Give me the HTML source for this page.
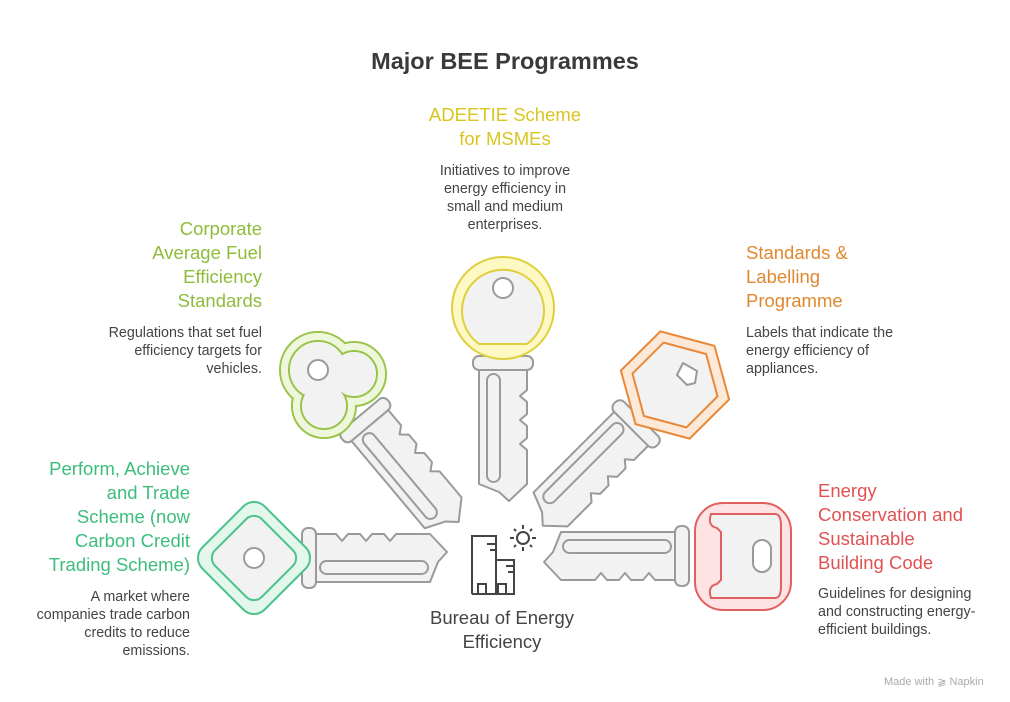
<!DOCTYPE html>
<html><head><meta charset="utf-8"><style>
body{margin:0;background:#fff;width:1010px;height:702px;overflow:hidden;font-family:"Liberation Sans",Arial,sans-serif}
.t{position:absolute;font-size:18.5px;line-height:24px}
.d{position:absolute;font-size:14.3px;line-height:18px;color:#444}
</style></head><body>
<div style="position:absolute;left:0;width:1010px;top:48px;text-align:center;font-size:23.5px;font-weight:bold;color:#3a3a3a">Major BEE Programmes</div>

<div class="t" style="left:405px;width:200px;top:103px;text-align:center;color:#d9c520">ADEETIE Scheme<br>for MSMEs</div>
<div class="d" style="left:405px;width:200px;top:162px;text-align:center">Initiatives to improve<br>energy efficiency in<br>small and medium<br>enterprises.</div>

<div class="t" style="left:40px;width:222px;top:217px;text-align:right;color:#8fbc3b">Corporate<br>Average Fuel<br>Efficiency<br>Standards</div>
<div class="d" style="left:40px;width:222px;top:324px;text-align:right">Regulations that set fuel<br>efficiency targets for<br>vehicles.</div>

<div class="t" style="left:746px;width:220px;top:241px;color:#e0882e">Standards &amp;<br>Labelling<br>Programme</div>
<div class="d" style="left:746px;width:220px;top:324px">Labels that indicate the<br>energy efficiency of<br>appliances.</div>

<div class="t" style="left:0px;width:190px;top:457px;text-align:right;color:#3cbd7c">Perform, Achieve<br>and Trade<br>Scheme (now<br>Carbon Credit<br>Trading Scheme)</div>
<div class="d" style="left:0px;width:190px;top:588px;text-align:right">A market where<br>companies trade carbon<br>credits to reduce<br>emissions.</div>

<div class="t" style="left:818px;width:192px;top:479px;color:#e05252">Energy<br>Conservation and<br>Sustainable<br>Building Code</div>
<div class="d" style="left:818px;width:192px;top:585px">Guidelines for designing<br>and constructing energy-<br>efficient buildings.</div>

<div style="position:absolute;left:400px;width:204px;top:606px;text-align:center;font-size:18.5px;line-height:24px;color:#444">Bureau of Energy<br>Efficiency</div>
<div style="position:absolute;left:884px;top:675px;font-size:11px;color:#aaa">Made with ⫺ Napkin</div>

<svg width="1010" height="702" style="position:absolute;left:0;top:0" fill="none">
<defs>
<g id="blade" stroke="#9a9a9a" stroke-width="2" stroke-linejoin="round" fill="#f2f2f2">
<path d="M58,-24 L82,-24 L88,-17 L94,-24 L106,-24 L112,-17 L118,-24 L130,-24 L136,-17 L142,-24 L176,-24 L193,-6 L184,4 L176,24 L58,24 Z"/>
<rect x="66" y="3" width="108" height="13" rx="6.5"/>
<rect x="48" y="-30" width="14" height="60" rx="6"/>
</g>
</defs>
<!-- teal -->
<g transform="translate(254,558)">
<use href="#blade"/>
<rect x="-44" y="-44" width="88" height="88" rx="15" transform="rotate(45)" fill="#e3f7ec" stroke="#4cc38a" stroke-width="2"/>
<rect x="-33" y="-33" width="66" height="66" rx="11" transform="rotate(45)" fill="#f2f2f2" stroke="#4cc38a" stroke-width="2"/>
<circle cx="0" cy="0" r="10" fill="#fff" stroke="#9a9a9a" stroke-width="2"/>
</g>
<!-- yellow -->
<g transform="translate(503,308)">
<g transform="rotate(90)"><use href="#blade"/></g>
<circle r="51" fill="#fdf8c4" stroke="#e0cf3c" stroke-width="2"/>
<path d="M-24,36 A41,41 0 1 1 24,36 Z" fill="#f2f2f2" stroke="#e0cf3c" stroke-width="2"/>
<circle cx="0" cy="-20" r="10" fill="#fff" stroke="#9a9a9a" stroke-width="2"/>
</g>
<!-- green -->
<g transform="translate(330,378)">
<g transform="rotate(50)"><use href="#blade"/></g>
<g fill="#eef6dc" stroke="#9bc34a" stroke-width="2"><circle cx="-12" cy="-8" r="38"/><circle cx="24" cy="-4" r="32"/><circle cx="-6" cy="28" r="32"/></g>
<g fill="#eef6dc"><circle cx="-12" cy="-8" r="37"/><circle cx="24" cy="-4" r="31"/><circle cx="-6" cy="28" r="31"/></g>
<g fill="#f2f2f2" stroke="#9bc34a" stroke-width="2"><circle cx="-12" cy="-8" r="29"/><circle cx="24" cy="-4" r="23"/><circle cx="-6" cy="28" r="23"/></g>
<g fill="#f2f2f2"><circle cx="-12" cy="-8" r="28"/><circle cx="24" cy="-4" r="22"/><circle cx="-6" cy="28" r="22"/></g>
<circle cx="-12" cy="-8" r="10" fill="#fff" stroke="#9a9a9a" stroke-width="2"/>
</g>
<!-- orange -->
<g transform="translate(675,385)">
<g transform="rotate(135)"><use href="#blade"/></g>
<polygon points="56,0 28,48 -28,48 -56,0 -28,-48 28,-48" transform="rotate(15)" fill="#fde9d8" stroke="#e8893a" stroke-width="2" stroke-linejoin="round"/>
<polygon points="44,0 22,38 -22,38 -44,0 -22,-38 22,-38" transform="rotate(15)" fill="#f2f2f2" stroke="#e8893a" stroke-width="2" stroke-linejoin="round"/>
<path d="M8,-22 L22,-14 L20,-2 L12,0 L2,-10 Z" fill="#fff" stroke="#9a9a9a" stroke-width="2" stroke-linejoin="round"/>
</g>
<!-- red -->
<g transform="translate(745,556)">
<g transform="rotate(180)"><use href="#blade" transform="translate(8,0)"/></g>
<rect x="-50" y="-53" width="96" height="107" rx="28" fill="#fde3e3" stroke="#e06060" stroke-width="2"/>
<path d="M-34,-42 L30,-42 Q36,-42 36,-30 L36,30 Q36,42 30,42 L-34,42 Q-38,30 -28,28 L-24,24 L-24,-24 L-28,-28 Q-38,-30 -34,-42Z" fill="#f2f2f2" stroke="#e06060" stroke-width="2"/>
<rect x="8" y="-16" width="18" height="32" rx="9" fill="#fff" stroke="#9a9a9a" stroke-width="2"/>
</g>
<!-- building icon -->
<g stroke="#444" stroke-width="2" fill="none">
<path d="M472,594 L472,536 L496,536 L496,594 M496,560 L514,560 L514,594 L472,594"/>
<path d="M487,544 L496,544 M490,550 L496,550 M506,566 L514,566 M508,572 L514,572 M478,594 L478,584 L486,584 L486,594 M498,594 L498,584 L506,584 L506,594"/>
<circle cx="523" cy="538" r="6"/>
<path d="M523,525 L523,529 M523,547 L523,551 M510,538 L514,538 M532,538 L536,538 M514,529 L516,531 M530,545 L532,547 M532,529 L530,531 M516,545 L514,547"/>
</g>
</svg>
</body></html>
